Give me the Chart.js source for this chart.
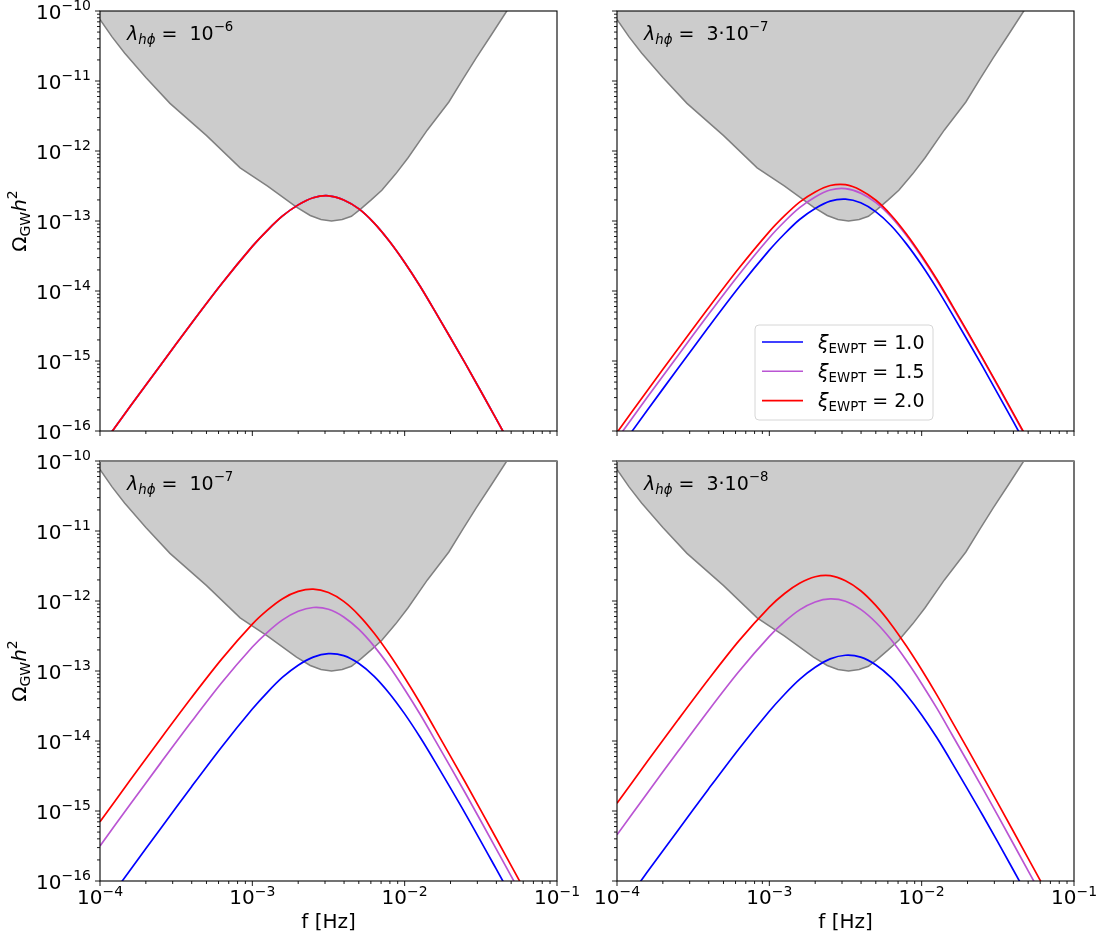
<!DOCTYPE html>
<html>
<head>
<meta charset="utf-8">
<script src="https://cdn.jsdelivr.net/npm/chart.js@4.4.1/dist/chart.umd.min.js"></script>
<style>
  body { margin: 0; background: #fff; }
  #wrap { position: relative; width: 1102px; height: 938px; }
  #wrap canvas { position: absolute; left: 0; top: 0; }
</style>
</head>
<body>
<div id="wrap">
  <canvas id="tl" width="1102" height="938"></canvas>
  <canvas id="tr" width="1102" height="938"></canvas>
  <canvas id="bl" width="1102" height="938"></canvas>
  <canvas id="br" width="1102" height="938"></canvas>
</div>
<script>
// frequency grid [Hz] shared by the spectra
const freq = [1.0e-4, 1.58e-4, 2.51e-4, 3.98e-4, 6.31e-4, 1.0e-3, 1.26e-3, 1.58e-3, 2.0e-3, 2.51e-3,
  3.16e-3, 3.98e-3, 5.01e-3, 6.31e-3, 7.94e-3, 1.0e-2, 1.26e-2, 1.58e-2, 2.51e-2, 3.98e-2, 6.31e-2];

// detector sensitivity (grey region is above this curve)
const sensFreq = [1.0e-4, 1.20e-4, 1.45e-4, 2.0e-4, 2.88e-4, 5.01e-4, 8.32e-4, 1.26e-3, 1.95e-3, 2.40e-3,
  2.82e-3, 3.31e-3, 3.89e-3, 4.47e-3, 5.13e-3, 6.03e-3, 7.08e-3, 8.71e-3, 1.05e-2, 1.41e-2,
  1.95e-2, 2.40e-2, 2.95e-2, 3.72e-2, 4.68e-2, 5.62e-2];
const sensOmega = [7.59e-11, 4.27e-11, 2.51e-11, 1.12e-11, 4.79e-12, 1.66e-12, 5.75e-13, 3.16e-13, 1.58e-13, 1.20e-13,
  1.05e-13, 1.00e-13, 1.05e-13, 1.17e-13, 1.48e-13, 2.00e-13, 2.75e-13, 4.68e-13, 7.94e-13, 2.00e-12,
  5.01e-12, 1.05e-11, 2.14e-11, 4.62e-11, 1.00e-10, 1.86e-10];

// lambda = 1e-6 : the three xi curves coincide
const tlOmega = [5.69e-17, 2.25e-16, 8.87e-16, 3.44e-15, 1.28e-14, 4.34e-14, 7.43e-14, 1.18e-13, 1.70e-13, 2.15e-13,
  2.29e-13, 2.00e-13, 1.49e-13, 9.35e-14, 5.14e-14, 2.56e-14, 1.18e-14, 5.16e-15, 9.08e-16, 1.50e-16, 2.42e-17];

// lambda = 3e-7
const trBlue = [5.00e-17, 1.98e-16, 7.80e-16, 3.03e-15, 1.13e-14, 3.83e-14, 6.58e-14, 1.05e-13, 1.51e-13, 1.92e-13,
  2.05e-13, 1.82e-13, 1.35e-13, 8.55e-14, 4.71e-14, 2.35e-14, 1.08e-14, 4.75e-15, 8.36e-16, 1.38e-16, 2.23e-17];
const trPurple = [7.66e-17, 3.03e-16, 1.19e-15, 4.61e-15, 1.71e-14, 5.77e-14, 9.84e-14, 1.55e-13, 2.21e-13, 2.77e-13,
  2.90e-13, 2.50e-13, 1.83e-13, 1.14e-13, 6.19e-14, 3.06e-14, 1.41e-14, 6.15e-15, 1.08e-15, 1.77e-16, 2.86e-17];
const trRed = [9.51e-17, 3.77e-16, 1.48e-15, 5.71e-15, 2.11e-14, 7.05e-14, 1.19e-13, 1.86e-13, 2.60e-13, 3.21e-13,
  3.30e-13, 2.76e-13, 1.98e-13, 1.21e-13, 6.53e-14, 3.19e-14, 1.46e-14, 6.34e-15, 1.10e-15, 1.82e-16, 2.93e-17];

// lambda = 1e-7
const blBlue = [3.64e-17, 1.44e-16, 5.69e-16, 2.21e-15, 8.30e-15, 2.86e-14, 5.00e-14, 8.15e-14, 1.21e-13, 1.58e-13,
  1.77e-13, 1.66e-13, 1.28e-13, 8.39e-14, 4.78e-14, 2.44e-14, 1.14e-14, 5.07e-15, 9.04e-16, 1.50e-16, 2.43e-17];
const blPurple = [3.16e-16, 1.25e-15, 4.91e-15, 1.88e-14, 6.85e-14, 2.20e-13, 3.60e-13, 5.37e-13, 7.13e-13, 8.07e-13,
  7.62e-13, 5.92e-13, 3.92e-13, 2.25e-13, 1.16e-13, 5.45e-14, 2.43e-14, 1.04e-14, 1.78e-15, 2.90e-16, 4.67e-17];
const blRed = [7.01e-16, 2.77e-15, 1.09e-14, 4.15e-14, 1.49e-13, 4.67e-13, 7.46e-13, 1.08e-12, 1.37e-12, 1.48e-12,
  1.32e-12, 9.86e-13, 6.25e-13, 3.46e-13, 1.73e-13, 8.00e-14, 3.52e-14, 1.49e-14, 2.53e-15, 4.11e-16, 6.59e-17];

// lambda = 3e-8
const brBlue = [3.37e-17, 1.34e-16, 5.27e-16, 2.05e-15, 7.71e-15, 2.66e-14, 4.66e-14, 7.60e-14, 1.13e-13, 1.49e-13,
  1.68e-13, 1.58e-13, 1.22e-13, 8.05e-14, 4.59e-14, 2.36e-14, 1.11e-14, 4.92e-15, 8.77e-16, 1.46e-16, 2.36e-17];
const brPurple = [4.56e-16, 1.80e-15, 7.06e-15, 2.71e-14, 9.82e-14, 3.12e-13, 5.06e-13, 7.46e-13, 9.68e-13, 1.07e-12,
  9.93e-13, 7.59e-13, 4.93e-13, 2.79e-13, 1.41e-13, 6.59e-14, 2.92e-14, 1.24e-14, 2.12e-15, 3.46e-16, 5.55e-17];
const brRed = [1.29e-15, 5.08e-15, 1.99e-14, 7.55e-14, 2.69e-13, 8.17e-13, 1.28e-12, 1.79e-12, 2.22e-12, 2.30e-12,
  1.94e-12, 1.40e-12, 8.57e-13, 4.63e-13, 2.27e-13, 1.04e-13, 4.52e-14, 1.91e-14, 3.21e-15, 5.22e-16, 8.36e-17];

const xiValues = ["1.0", "1.5", "2.0"];
const xiColors = ["#0000ff", "#ba55d3", "#ff0000"];
const lambdaMantissa = ["", "3\u00b7", "", "3\u00b7"];
const lambdaExponent = ["6", "7", "7", "8"];
const xDecades = [-4, -3, -2, -1];
const yDecades = [-16, -15, -14, -13, -12, -11, -10];

const FONT = "'DejaVu Sans', sans-serif";
const big = "20px " + FONT;
const small = "14px " + FONT;
const bigIt = "italic 20px " + FONT;
const txt = "19px " + FONT;
const txtIt = "italic 19px " + FONT;
const txtSmall = "13.3px " + FONT;
const txtSmallIt = "italic 13.3px " + FONT;

function runsWidth(ctx, runs) {
  let w = 0;
  for (const r of runs) { ctx.font = r.font; w += ctx.measureText(r.t).width; }
  return w;
}
function drawRuns(ctx, x, y, runs, align) {
  const w = runsWidth(ctx, runs);
  let cx = align === "right" ? x - w : align === "center" ? x - w / 2 : x;
  for (const r of runs) {
    ctx.font = r.font;
    ctx.fillText(r.t, cx, y + (r.dy || 0));
    cx += ctx.measureText(r.t).width;
  }
}
function powerRuns(n, raise) {
  return [{ t: "10", font: big }, { t: "\u2212" + Math.abs(n), font: small, dy: -raise }];
}

const axesPlugin = {
  id: "axesDecor",
  afterDraw(chart) {
    const ctx = chart.ctx;
    const ca = chart.chartArea;
    const xs = chart.scales.x, ys = chart.scales.y;
    const p = chart.options.plugins.axesDecor;
    ctx.save();
    ctx.fillStyle = "#000";
    ctx.strokeStyle = "#000";
    ctx.textBaseline = "alphabetic";

    // frame
    ctx.lineWidth = 1.1;
    ctx.strokeRect(ca.left, ca.top, ca.right - ca.left, ca.bottom - ca.top);
    if (p.greyTop) {
      ctx.strokeStyle = "#808080";
      ctx.lineWidth = 2;
      ctx.beginPath(); ctx.moveTo(ca.left, ca.top); ctx.lineTo(ca.right, ca.top); ctx.stroke();
      ctx.strokeStyle = "#000";
    }

    // ticks
    ctx.lineWidth = 0.9;
    ctx.beginPath();
    for (let n = -16; n <= -10; n++) {
      for (let k = 1; k <= 9; k++) {
        const v = k * Math.pow(10, n);
        if (v > 1.0001e-10) break;
        const y = ys.getPixelForValue(v);
        const len = k === 1 ? 5 : 3;
        ctx.moveTo(ca.left, y); ctx.lineTo(ca.left - len, y);
      }
    }
    for (let n = -4; n <= -1; n++) {
      for (let k = 1; k <= 9; k++) {
        const v = k * Math.pow(10, n);
        if (v > 1.0001e-1) break;
        const x = xs.getPixelForValue(v);
        const len = k === 1 ? 5 : 3;
        ctx.moveTo(x, ca.bottom); ctx.lineTo(x, ca.bottom + len);
      }
    }
    ctx.stroke();

    // tick labels
    if (p.yLabels) {
      for (const n of yDecades) {
        const y = ys.getPixelForValue(Math.pow(10, n));
        drawRuns(ctx, ca.left - 9, y + 7.5, powerRuns(n, 9), "right");
      }
      ctx.save();
      ctx.translate(ca.left - 74, (ca.top + ca.bottom) / 2);
      ctx.rotate(-Math.PI / 2);
      drawRuns(ctx, 0, 0, [
        { t: "\u03a9", font: big },
        { t: "GW", font: small, dy: 3.5 },
        { t: "h", font: bigIt },
        { t: "2", font: small, dy: -9 }
      ], "center");
      ctx.restore();
    }
    if (p.xLabels) {
      for (const n of xDecades) {
        const x = xs.getPixelForValue(Math.pow(10, n));
        drawRuns(ctx, x, ca.bottom + 23, powerRuns(n, 8), "center");
      }
      ctx.font = big;
      ctx.textAlign = "center";
      ctx.fillText("f [Hz]", (ca.left + ca.right) / 2, ca.bottom + 47);
      ctx.textAlign = "left";
    }

    // coupling annotation
    drawRuns(ctx, ca.left + 27, ca.top + 29, [
      { t: "\u03bb", font: txtIt },
      { t: "h\u03d5", font: txtSmallIt, dy: 4 },
      { t: " =  " + p.mantissa + "10", font: txt },
      { t: "\u2212" + p.exponent, font: txtSmall, dy: -9 }
    ], "left");

    // legend
    if (p.legend) {
      const lx = ca.left + 138, ly = ca.top + 314, lw = 178, lh = 95;
      ctx.beginPath();
      ctx.roundRect(lx, ly, lw, lh, 4);
      ctx.fillStyle = "rgba(255,255,255,0.85)";
      ctx.fill();
      ctx.strokeStyle = "#d6d6d6";
      ctx.lineWidth = 1;
      ctx.stroke();
      xiValues.forEach((v, i) => {
        const ry = ly + 17 + i * 29.3;
        ctx.strokeStyle = xiColors[i];
        ctx.lineWidth = 1.6;
        ctx.beginPath(); ctx.moveTo(lx + 7, ry); ctx.lineTo(lx + 48, ry); ctx.stroke();
        ctx.fillStyle = "#000";
        drawRuns(ctx, lx + 63, ry + 6.5, [
          { t: "\u03be", font: txtIt },
          { t: "EWPT", font: txtSmall, dy: 4 },
          { t: " = " + v, font: txt }
        ], "left");
      });
    }
    ctx.restore();
  }
};

function pts(xs, ys) {
  return xs.map((x, i) => ({ x: x, y: ys[i] }));
}

function makePanel(id, pad, series, decor) {
  const datasets = [];
  // red first so it is drawn on top
  for (let i = series.length - 1; i >= 0; i--) {
    datasets.push({
      label: "\u03be = " + xiValues[i],
      data: pts(freq, series[i]),
      borderColor: xiColors[i],
      borderWidth: 1.7,
      fill: false,
      tension: 0.3
    });
  }
  datasets.push({
    label: "sensitivity",
    data: pts(sensFreq, sensOmega),
    borderColor: "#808080",
    borderWidth: 1.5,
    backgroundColor: "#cccccc",
    fill: "end",
    tension: 0
  });
  return new Chart(document.getElementById(id), {
    type: "line",
    data: { datasets: datasets },
    options: {
      responsive: false,
      animation: false,
      devicePixelRatio: 1,
      layout: { padding: pad },
      elements: { point: { radius: 0 } },
      plugins: {
        legend: { display: false },
        tooltip: { enabled: false },
        axesDecor: decor
      },
      scales: {
        x: { type: "logarithmic", min: 1e-4, max: 1e-1, display: false },
        y: { type: "logarithmic", min: 1e-16, max: 1e-10, display: false }
      }
    },
    plugins: [axesPlugin]
  });
}

makePanel("tl", { left: 100, top: 11, right: 545, bottom: 507 },
  [tlOmega, tlOmega, tlOmega],
  { yLabels: true, xLabels: false, mantissa: lambdaMantissa[0], exponent: lambdaExponent[0] });
makePanel("tr", { left: 617, top: 11, right: 28, bottom: 507 },
  [trBlue, trPurple, trRed],
  { yLabels: false, xLabels: false, legend: true, mantissa: lambdaMantissa[1], exponent: lambdaExponent[1] });
makePanel("bl", { left: 100, top: 461, right: 545, bottom: 57 },
  [blBlue, blPurple, blRed],
  { yLabels: true, xLabels: true, greyTop: true, mantissa: lambdaMantissa[2], exponent: lambdaExponent[2] });
makePanel("br", { left: 617, top: 461, right: 28, bottom: 57 },
  [brBlue, brPurple, brRed],
  { yLabels: false, xLabels: true, greyTop: true, mantissa: lambdaMantissa[3], exponent: lambdaExponent[3] });
</script>
</body>
</html>
